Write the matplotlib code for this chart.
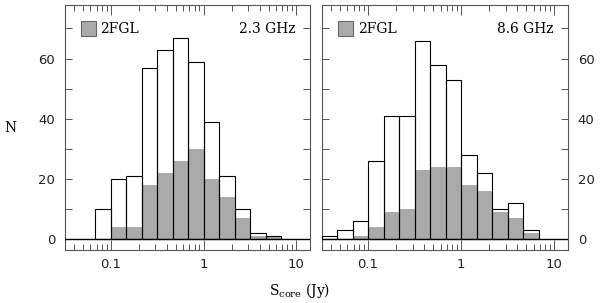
import numpy as np
import matplotlib.pyplot as plt
from matplotlib.ticker import FixedLocator, NullFormatter, LogLocator

# bins are 1/6 decade wide; first edge given as log10 exponent
start_23 = -7 / 6
all_23 = [10, 20, 21, 57, 63, 67, 59, 39, 21, 10, 2, 1]
fgl_23 = [0, 4, 4, 18, 22, 26, 30, 20, 14, 7, 1, 1]

start_86 = -9 / 6
all_86 = [1, 3, 6, 26, 41, 41, 66, 58, 53, 28, 22, 10, 12, 3]
fgl_86 = [0, 0, 1, 4, 9, 10, 23, 24, 24, 18, 16, 9, 7, 2]

plt.rcParams['font.family'] = ['DejaVu Serif']

fig = plt.figure(figsize=(6.0, 3.03), dpi=100)
W, H = 600, 303
ax1 = fig.add_axes([65 / W, (H - 250) / H, 245 / W, 245 / H])
ax2 = fig.add_axes([322 / W, (H - 250) / H, 246 / W, 245 / H])

gray = '#aaaaaa'
frame = '#555555'


def panel(ax, start, total, fgl, label):
    n = len(total)
    edges = 10 ** (start + np.arange(n + 1) / 6)
    left = edges[:-1]
    width = np.diff(edges)
    ax.bar(left, fgl, width=width, align='edge', color=gray, edgecolor='none', zorder=2)
    ax.bar(left, total, width=width, align='edge', facecolor='none', edgecolor='black',
           linewidth=0.8, zorder=3)
    ax.axhline(0, color='black', lw=1.0, zorder=4)
    ax.set_xscale('log')
    ax.set_xlim(0.032, 14)
    ax.set_ylim(-3.6, 77.8)
    ax.xaxis.set_major_locator(FixedLocator([0.1, 1, 10]))
    ax.xaxis.set_minor_locator(LogLocator(base=10, subs=np.arange(2, 10)))
    ax.xaxis.set_minor_formatter(NullFormatter())
    ax.set_xticklabels(['0.1', '1', '10'])
    ax.yaxis.set_major_locator(FixedLocator([0, 20, 40, 60]))
    ax.yaxis.set_minor_locator(FixedLocator([10, 30, 50, 70]))
    ax.tick_params(which='both', direction='in', top=True, right=True,
                   color=frame, width=0.7, labelsize=9.5, labelcolor='#222222')
    ax.tick_params(axis='x', which='major', length=7, pad=6)
    ax.tick_params(axis='x', which='minor', length=4)
    ax.tick_params(axis='y', which='both', length=5, pad=7)
    for t in ax.get_xticklabels() + ax.get_yticklabels():
        t.set_family('DejaVu Sans')
    for s in ax.spines.values():
        s.set_color(frame)
        s.set_linewidth(0.8)
    # legend box
    ax.add_patch(plt.Rectangle((0.065, 0.873), 0.06, 0.06, transform=ax.transAxes,
                               facecolor=gray, edgecolor='#666666', lw=0.8, zorder=5))
    ax.text(0.145, 0.903, '2FGL', transform=ax.transAxes, fontsize=10, va='center')
    ax.text(0.94, 0.903, label, transform=ax.transAxes, fontsize=10, va='center', ha='right')


panel(ax1, start_23, all_23, fgl_23, '2.3 GHz')
panel(ax2, start_86, all_86, fgl_86, '8.6 GHz')

ax2.tick_params(axis='y', which='both', labelleft=False, labelright=True)
for t in ax2.get_yticklabels(which='both'):
    t.set_family('DejaVu Sans')

fig.text(10 / W, 1 - 128 / H, 'N', fontsize=10, ha='center', va='center')
fig.text(0.5, 1 - 290 / H, r'S$_{\mathregular{core}}$ (Jy)', fontsize=10, ha='center', va='center')

fig.savefig('out.png', dpi=100)
